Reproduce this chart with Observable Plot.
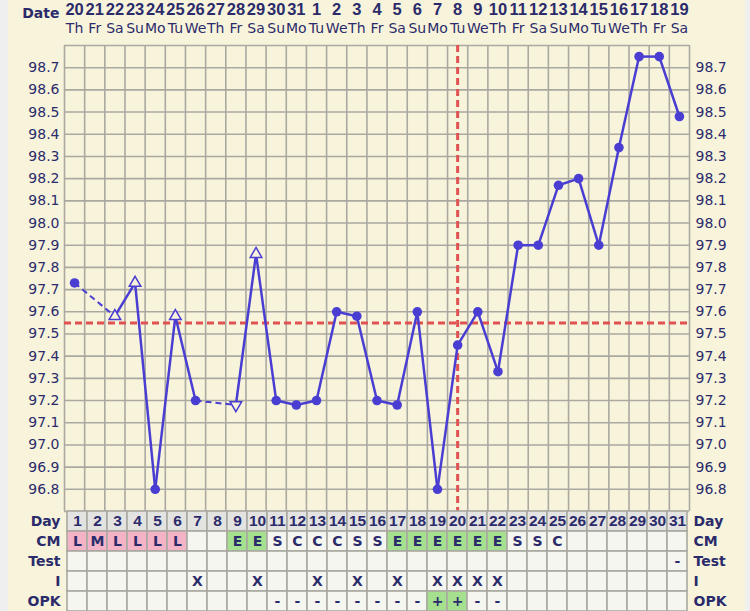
<!DOCTYPE html>
<html><head><meta charset="utf-8">
<script src="https://cdn.jsdelivr.net/npm/d3@7"></script>
<script src="https://cdn.jsdelivr.net/npm/@observablehq/plot@0.6"></script>
<style>
html,body{margin:0;padding:0;background:#efefef;}
#wrap{position:relative;width:750px;height:611px;overflow:hidden;}
#bg{position:absolute;left:8px;top:0;width:737px;height:611px;background:#f8f4dc;}
#charts{position:absolute;left:0;top:0;width:750px;}
#charts svg{display:block;overflow:visible;}
</style></head>
<body>
<div id="wrap"><div id="bg"></div><div id="charts"></div></div>
<script>
// ---- data ----
const dates = [20,21,22,23,24,25,26,27,28,29,30,31,1,2,3,4,5,6,7,8,9,10,11,12,13,14,15,16,17,18,19];
const weekdays = ["Th","Fr","Sa","Su","Mo","Tu","We","Th","Fr","Sa","Su","Mo","Tu","We","Th","Fr","Sa","Su","Mo","Tu","We","Th","Fr","Sa","Su","Mo","Tu","We","Th","Fr","Sa"];
const temps = [97.73,null,97.58,97.73,96.80,97.58,97.20,null,97.18,97.86,97.20,97.18,97.20,97.60,97.58,97.20,97.18,97.60,96.80,97.45,97.60,97.33,97.90,97.90,98.17,98.20,97.90,98.34,98.75,98.75,98.48];
const markers = ["dot",null,"up","up","dot","up","dot",null,"down","up","dot","dot","dot","dot","dot","dot","dot","dot","dot","dot","dot","dot","dot","dot","dot","dot","dot","dot","dot","dot","dot"];
const cm = ["L","M","L","L","L","L","","","E","E","S","C","C","C","S","S","E","E","E","E","E","E","S","S","C","","","","","",""];
const test = ["","","","","","","","","","","","","","","","","","","","","","","","","","","","","","","-"];
const intercourse = ["","","","","","","X","","","X","","","X","","X","","X","","X","X","X","X","","","","","","","","",""];
const opk = ["","","","","","","","","","","-","-","-","-","-","-","-","-","+","+","-","-","","","","","","","","",""];
const rowNames = ["Day","CM","Test","I","OPK"];
const coverline = 97.55;
const ovulationDay = 20;
const yTicks = [96.8,96.9,97.0,97.1,97.2,97.3,97.4,97.5,97.6,97.7,97.8,97.9,98.0,98.1,98.2,98.3,98.4,98.5,98.6,98.7];

// ---- styles ----
const navy = "#2b2b6b", purple = "#4a3ed2", red = "#e05252", gridC = "#aaa9a1", cream = "#f8f4dc";
const font = "DejaVu Sans, Verdana, sans-serif";
const narrow = "Liberation Sans, Arial, sans-serif";
const W = 750, ML = 64, MR = 61;
const days = d3.range(1, dates.length + 1);

// header
const header = Plot.plot({
  width: W, height: 45, marginLeft: ML, marginRight: MR, marginTop: 0, marginBottom: 0,
  style: {background: "transparent", color: navy, fontFamily: font, overflow: "visible"},
  x: {domain: [0.5, days.length + 0.5], axis: null},
  marks: [
    Plot.text(dates, {x: (d, i) => i + 1, text: d => String(d), frameAnchor: "top", lineAnchor: "top", dy: 3, fontWeight: "bold", fontSize: 16.5, fontFamily: narrow, fill: navy}),
    Plot.text(weekdays, {x: (d, i) => i + 1, text: d => d, frameAnchor: "top", lineAnchor: "top", dy: 23, fontSize: 14, fill: navy}),
    Plot.text(["Date"], {frameAnchor: "top-left", textAnchor: "end", lineAnchor: "top", dx: -5, dy: 8, fontWeight: "bold", fontSize: 14, fill: navy})
  ]
});

// main chart
const pts = days.map((d, i) => ({day: d, t: temps[i], m: markers[i]})).filter(p => p.t != null);
const segs = d3.pairs(pts).map(([a, b]) => ({x1: a.day, y1: a.t, x2: b.day, y2: b.t, dashed: b.day - a.day > 1}));
const sqrt3 = Math.sqrt(3);
const triangleDown = {draw(ctx, size) {
  const y = -Math.sqrt(size / (sqrt3 * 3));
  ctx.moveTo(0, -y * 2); ctx.lineTo(-sqrt3 * y, y); ctx.lineTo(sqrt3 * y, y); ctx.closePath();
}};
const gridX = d3.range(0.5, days.length + 1, 1);
const gridY = d3.range(967, 989).map(v => v / 10);

const main = Plot.plot({
  width: W, height: 466, marginLeft: ML, marginRight: MR, marginTop: 0, marginBottom: 0,
  style: {background: "transparent", color: navy, fontFamily: font, overflow: "visible"},
  x: {domain: [0.5, days.length + 0.5], axis: null},
  y: {domain: [96.7, 98.8], axis: null},
  marks: [
    Plot.ruleY(gridY, {stroke: gridC, strokeWidth: 1.6}),
    Plot.ruleX(gridX, {stroke: gridC, strokeWidth: 1.6}),
    Plot.axisY({anchor: "left", ticks: yTicks, tickFormat: d3.format(".1f"), tickSize: 0, tickPadding: 5, fontSize: 14, fill: navy, label: null}),
    Plot.axisY({anchor: "right", ticks: yTicks, tickFormat: d3.format(".1f"), tickSize: 0, tickPadding: 6, fontSize: 14, fill: navy, label: null}),
    Plot.ruleY([coverline], {stroke: red, strokeWidth: 3, strokeDasharray: "7,4"}),
    Plot.ruleX([ovulationDay], {stroke: red, strokeWidth: 3, strokeDasharray: "7,4"}),
    Plot.link(segs.filter(s => !s.dashed), {x1: "x1", y1: "y1", x2: "x2", y2: "y2", stroke: purple, strokeWidth: 2.5}),
    Plot.link(segs.filter(s => s.dashed), {x1: "x1", y1: "y1", x2: "x2", y2: "y2", stroke: purple, strokeWidth: 2, strokeDasharray: "6,4"}),
    Plot.dot(pts.filter(p => p.m === "dot"), {x: "day", y: "t", r: 4.8, fill: purple, stroke: "none"}),
    Plot.dot(pts.filter(p => p.m === "up"), {x: "day", y: "t", r: 4.3, symbol: "triangle", fill: cream, stroke: purple, strokeWidth: 1.5}),
    Plot.dot(pts.filter(p => p.m === "down"), {x: "day", y: "t", r: 4.3, symbol: triangleDown, fill: cream, stroke: purple, strokeWidth: 1.5})
  ]
});

// table
const cells = [];
days.forEach((d, i) => {
  cells.push({day: d, row: "Day", text: String(d), fill: "#e3e3e1"});
  cells.push({day: d, row: "CM", text: cm[i], fill: (cm[i] === "L" || cm[i] === "M") ? "#f4b3c6" : cm[i] === "E" ? "#a5e08e" : "#f6f6f1"});
  cells.push({day: d, row: "Test", text: test[i], fill: "#f6f6f1"});
  cells.push({day: d, row: "I", text: intercourse[i], fill: "#f6f6f1"});
  cells.push({day: d, row: "OPK", text: opk[i], fill: opk[i] === "+" ? "#a5e08e" : "#f6f6f1"});
});
const table = Plot.plot({
  width: W, height: 100, marginLeft: ML, marginRight: MR, marginTop: 0, marginBottom: 0,
  style: {background: "transparent", color: navy, fontFamily: font, overflow: "visible"},
  x: {type: "band", domain: days, padding: 0, axis: null},
  y: {type: "band", domain: rowNames, padding: 0, axis: null},
  color: {type: "identity"},
  marks: [
    Plot.cell(cells, {x: "day", y: "row", fill: "fill", stroke: gridC, strokeWidth: 1.6, inset: 0}),
    Plot.text(cells.filter(c => c.text && c.row === "Day"), {x: "day", y: "row", text: "text", fontWeight: "bold", fontSize: 15.5, fontFamily: narrow, fill: navy}),
    Plot.text(cells.filter(c => c.text && c.row !== "Day"), {x: "day", y: "row", text: "text", fontWeight: "bold", fontSize: 14, fill: navy}),
    Plot.axisY({anchor: "left", tickSize: 0, tickPadding: 4, fontSize: 14, fontWeight: "bold", fill: navy, label: null}),
    Plot.axisY({anchor: "right", tickSize: 0, tickPadding: 4, fontSize: 14, fontWeight: "bold", fill: navy, textAnchor: "start", label: null})
  ]
});

const host = document.getElementById("charts");
host.append(header, main, table);
</script>
</body></html>
